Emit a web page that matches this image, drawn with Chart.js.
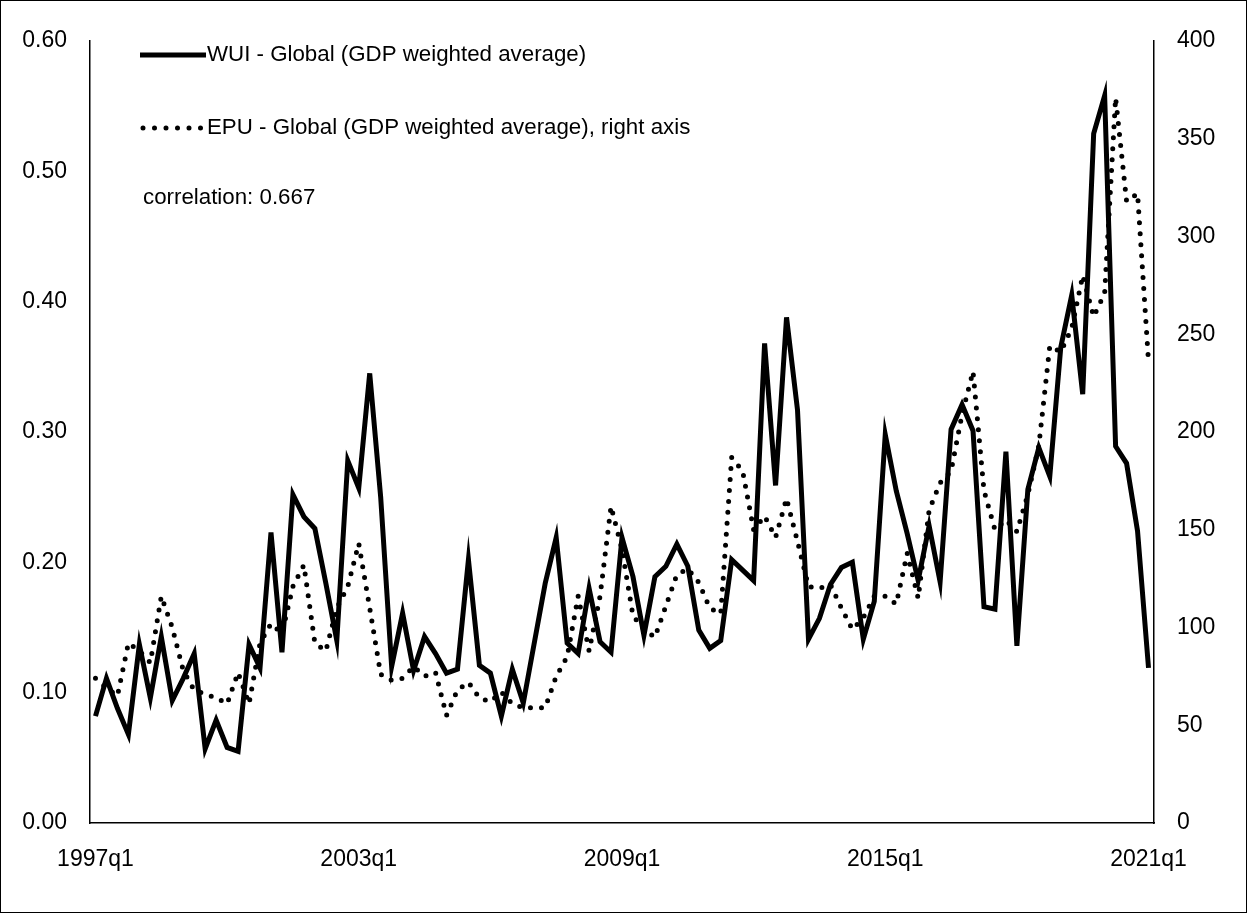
<!DOCTYPE html>
<html><head><meta charset="utf-8">
<script src="https://cdn.jsdelivr.net/npm/chart.js@4.4.1/dist/chart.umd.min.js"></script>
<style>html,body{margin:0;padding:0;background:#fff;} canvas{display:block;}</style>
</head><body>
<canvas id="c" width="1248" height="915"></canvas>
<script>
// categories: quarterly 1997q1 .. 2021q1
const firstYear = 1997, lastYear = 2021;
const quarters = [];
for (let y = firstYear; y <= lastYear; y++) {
  for (let q = 1; q <= 4; q++) {
    if (y === lastYear && q > 1) break;
    quarters.push(y + 'q' + q);
  }
}
const xTickLabels = ['1997q1', '2003q1', '2009q1', '2015q1', '2021q1'];

// WUI - Global (GDP weighted average), left axis
const wui = [
  0.082, 0.111, 0.088, 0.068, 0.137, 0.096, 0.143, 0.094, 0.111, 0.130,
  0.057, 0.079, 0.058, 0.055, 0.137, 0.119, 0.223, 0.131, 0.252, 0.235,
  0.226, 0.184, 0.140, 0.278, 0.257, 0.345, 0.250, 0.120, 0.161, 0.117,
  0.143, 0.130, 0.115, 0.118, 0.202, 0.121, 0.115, 0.082, 0.118, 0.092,
  0.138, 0.184, 0.219, 0.138, 0.130, 0.180, 0.139, 0.131, 0.219, 0.189,
  0.144, 0.189, 0.197, 0.214, 0.197, 0.148, 0.134, 0.140, 0.202, 0.194,
  0.186, 0.368, 0.259, 0.388, 0.317, 0.141, 0.157, 0.183, 0.196, 0.200,
  0.141, 0.170, 0.298, 0.255, 0.222, 0.186, 0.228, 0.185, 0.302, 0.321,
  0.301, 0.166, 0.164, 0.285, 0.136, 0.256, 0.288, 0.266, 0.365, 0.405,
  0.329, 0.529, 0.558, 0.289, 0.276, 0.224, 0.119
];

// EPU - Global (GDP weighted average), right axis
const epu = [
  74, 69, 65, 92, 88, 82, 116, 100, 78, 68,
  66, 64, 61, 77, 61, 92, 102, 97, 121, 132,
  92, 88, 110, 121, 143, 110, 76, 73, 74, 80,
  75, 77, 55, 68, 72, 64, 62, 67, 61, 59,
  59, 59, 75, 85, 116, 88, 116, 162, 140, 106,
  99, 95, 111, 127, 130, 123, 110, 107, 187, 180,
  150, 157, 146, 166, 144, 121, 120, 122, 110, 99,
  105, 116, 116, 112, 138, 115, 160, 174, 180, 209,
  231, 170, 150, 155, 149, 168, 193, 244, 241, 253,
  280, 259, 271, 371, 318, 322, 236
];

const leftMin = 0, leftMax = 0.6, leftStep = 0.1;
const rightMin = 0, rightMax = 400, rightStep = 50;

const legendItems = [
  { text: 'WUI - Global (GDP weighted average)', dotted: false },
  { text: 'EPU - Global (GDP weighted average), right axis', dotted: true }
];
const noteText = 'correlation: 0.667';

const FONT = "'Liberation Sans', Arial, sans-serif";
Chart.defaults.font.family = FONT;
Chart.defaults.font.size = 23;
Chart.defaults.color = '#000';

const overlayPlugin = {
  id: 'overlay',
  afterDraw(chart) {
    const ctx = chart.ctx;
    ctx.save();
    // outer frame
    ctx.strokeStyle = '#000';
    ctx.lineWidth = 1;
    ctx.setLineDash([]);
    ctx.strokeRect(0.5, 0.5, 1246, 912);
    // legend
    const ys = [55, 128];
    legendItems.forEach((it, k) => {
      const y = ys[k];
      ctx.beginPath();
      ctx.strokeStyle = '#000';
      if (it.dotted) {
        ctx.lineWidth = 5;
        ctx.lineCap = 'round';
        ctx.setLineDash([0, 11.5]);
        ctx.moveTo(143, y); ctx.lineTo(202, y);
      } else {
        ctx.lineWidth = 5;
        ctx.lineCap = 'butt';
        ctx.setLineDash([]);
        ctx.moveTo(140, y); ctx.lineTo(206, y);
      }
      ctx.stroke();
      ctx.setLineDash([]);
      ctx.fillStyle = '#000';
      ctx.font = '22.3px ' + FONT;
      ctx.textAlign = 'left';
      ctx.textBaseline = 'middle';
      ctx.fillText(it.text, 207, y);
    });
    ctx.fillText(noteText, 143, 198);
    ctx.restore();
  }
};

new Chart(document.getElementById('c'), {
  type: 'line',
  data: {
    labels: quarters,
    datasets: [
      { label: legendItems[0].text, data: wui, yAxisID: 'y', borderColor: '#000', backgroundColor: '#000',
        borderWidth: 5, pointRadius: 0, tension: 0, borderJoinStyle: 'miter', fill: false },
      { label: legendItems[1].text, data: epu, yAxisID: 'y2', borderColor: '#000', backgroundColor: '#000',
        borderWidth: 5, borderDash: [0, 11], borderCapStyle: 'round', borderJoinStyle: 'round',
        pointRadius: 0, tension: 0, fill: false }
    ]
  },
  options: {
    responsive: false,
    animation: false,
    layout: { padding: { top: 41, left: 0, right: 0, bottom: 0 } },
    plugins: { legend: { display: false }, tooltip: { enabled: false } },
    scales: {
      x: {
        type: 'category', offset: true,
        grid: { display: false, drawTicks: false },
        border: { display: true, color: '#000', width: 1.5 },
        ticks: { autoSkip: false, maxRotation: 0, minRotation: 0, padding: 23,
          callback: (v, i) => xTickLabels.includes(quarters[i]) ? quarters[i] : null },
        afterFit: s => { s.height = 92; }
      },
      y: {
        position: 'left', min: leftMin, max: leftMax,
        grid: { display: false, drawTicks: false },
        border: { display: true, color: '#000', width: 1.5 },
        ticks: { stepSize: leftStep, padding: 23, callback: v => Number(v).toFixed(2) },
        afterFit: s => { s.width = 90; }
      },
      y2: {
        position: 'right', min: rightMin, max: rightMax,
        grid: { display: false, drawTicks: false },
        border: { display: true, color: '#000', width: 1.5 },
        ticks: { stepSize: rightStep, padding: 23 },
        afterFit: s => { s.width = 94; }
      }
    }
  },
  plugins: [overlayPlugin]
});
</script>
</body></html>
